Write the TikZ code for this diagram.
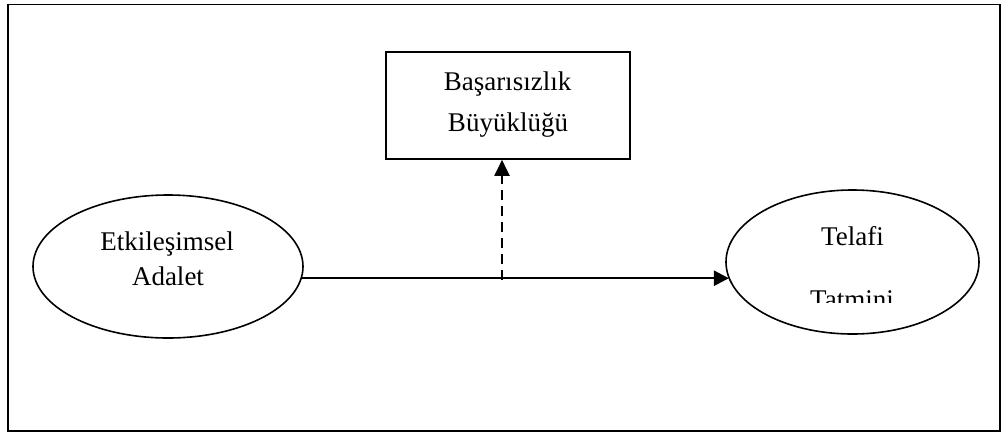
\documentclass[tikz,border=0pt]{standalone}
\usepackage{fontspec}
\setmainfont{Liberation Serif}
\usetikzlibrary{shapes.geometric,arrows.meta}
\tikzset{
  frame/.style={draw, line width=1.5bp},
  boxnode/.style={draw, line width=2bp, minimum width=244bp, minimum height=107bp, inner sep=0pt},
  ovalnode/.style={draw, ellipse, line width=1.6bp, inner sep=0pt},
  lbl/.style={anchor=base, inner sep=0pt, font=\fontsize{27bp}{32bp}\selectfont},
  mainarrow/.style={line width=2.5bp, -{Triangle[length=15bp,width=15bp]}},
  dasharrow/.style={line width=2bp, dash pattern=on 10bp off 6bp, -{Triangle[length=16bp,width=15bp]}}
}
\begin{document}
\begin{tikzpicture}[x=1bp,y=-1bp]
\useasboundingbox (0,0) rectangle (1008,432);
\draw[frame] (8,4.7) rectangle (1000,431);
% box
\node[boxnode] (B) at (508.3,105.3) {};
\node[lbl] (b1) at (507.5,90) {Başarısızlık};
\node[lbl] (b2) at (508,131.5) {Büyüklüğü};
% left ellipse
\node[ovalnode, minimum width=270bp, minimum height=143bp] (L) at (168,266.5) {};
\node[lbl] (l1) at (167,250.5) {Etkileşimsel};
\node[lbl] (l2) at (168,285) {Adalet};
% right ellipse
\node[ovalnode, minimum width=253bp, minimum height=144bp] (R) at (852.5,262) {};
\node[lbl] (r1) at (852.5,245.5) {Telafi};
\begin{scope}
\clip (700,200) rectangle (1000,302);
\node[lbl] (r2) at (852,308) {Tatmini};
\end{scope}
% connectors
\coordinate (S) at (L.-5.8);
\coordinate (M) at (502,280);
\draw[mainarrow] (S) -- (R.188.4 |- S);
\draw[dasharrow] (M) -- (B.south -| M);
\end{tikzpicture}
\end{document}
